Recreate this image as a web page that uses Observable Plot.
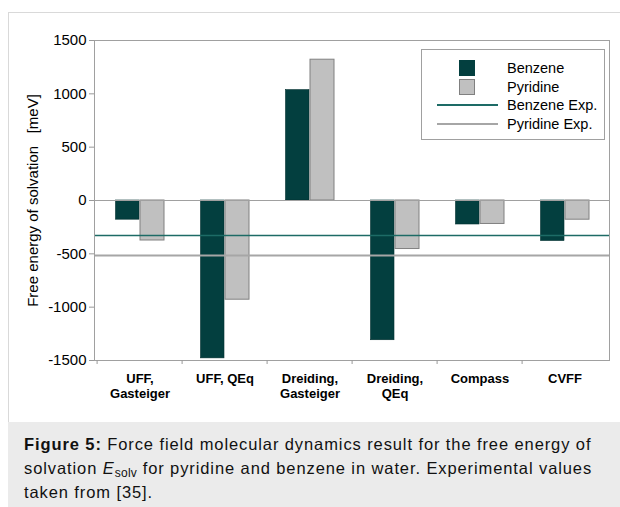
<!DOCTYPE html>
<html>
<head>
<meta charset="utf-8">
<script src="https://cdn.jsdelivr.net/npm/d3@7"></script>
<script src="https://cdn.jsdelivr.net/npm/@observablehq/plot@0.6"></script>
<style>
  html, body { margin: 0; padding: 0; background: #fff; }
  body { width: 620px; height: 507px; position: relative; overflow: hidden;
         font-family: "Liberation Sans", Arial, Helvetica, sans-serif; }
  #panel { position: absolute; left: 8px; top: 12px; width: 640px; height: 410px;
           border-left: 1px solid #d9d9d9; border-top: 1px solid #d9d9d9; box-sizing: border-box; }
  #chart { position: absolute; left: 0; top: 0; }
  #legend { position: absolute; left: 421px; top: 49px; width: 184px; height: 91px;
            border: 1px solid #a0a0a0; box-sizing: border-box; background: #fff; }
  .row { position: absolute; left: 0; width: 100%; height: 18px; }
  .row .sym { position: absolute; }
  .row .lab { position: absolute; left: 85px; top: 0; line-height: 18px; font-size: 14.5px; color: #000; white-space: nowrap; }
  #caption { position: absolute; left: 8px; top: 422px; width: 612px; height: 85px; background: #ebebeb;
             box-sizing: border-box; padding: 10px 0 0 16px; font-size: 16.5px; line-height: 24px;
             letter-spacing: 0.9px; color: #111; white-space: nowrap; }
  #caption sub { font-size: 12px; vertical-align: -3px; line-height: 0; letter-spacing: 0.3px; }
</style>
</head>
<body>
<div id="panel"></div>
<div id="chart"></div>
<div id="legend"></div>
<div id="caption"><b>Figure 5:</b> Force field molecular dynamics result for the free energy of<br>solvation <i>E</i><sub>solv</sub> for pyridine and benzene in water. Experimental values<br>taken from [35].</div>
<script>
// ---- data ----
const categories = ["UFF,\nGasteiger", "UFF, QEq", "Dreiding,\nGasteiger", "Dreiding,\nQEq", "Compass", "CVFF"];
const benzene  = [-180, -1480, 1035, -1310, -225, -380];
const pyridine = [-375,  -930, 1320,  -455, -220, -180];
const benzeneExp = -328;
const pyridineExp = -516;
const yTicks = [-1500, -1000, -500, 0, 500, 1000, 1500];
const yTitle = ["Free energy of solvation\u00a0\u00a0\u00a0[meV]"];
const seriesNames = ["Benzene", "Pyridine", "Benzene Exp.", "Pyridine Exp."];

const colors = {
  benzene: "#033f3f",
  pyridine: "#c0c0c0",
  benzeneExp: "#1d6b66",
  pyridineExp: "#a6a6a6"
};

const rows = categories.map((c, i) => ({category: c, benzene: benzene[i], pyridine: pyridine[i]}));

const chart = Plot.plot({
  width: 620,
  height: 420,
  marginLeft: 94,
  marginRight: 11,
  marginTop: 40,
  marginBottom: 60,
  style: {fontFamily: "'Liberation Sans', Arial, sans-serif", background: "transparent", overflow: "visible", color: "#000"},
  x: {type: "band", domain: categories, padding: 0, label: null},
  y: {domain: [-1500, 1500], label: null},
  marks: [
    Plot.barY(rows, {x: "category", y: "benzene", fill: colors.benzene, stroke: "#023030", strokeWidth: 0.6, insetLeft: 18.5, insetRight: 43}),
    Plot.barY(rows, {x: "category", y: "pyridine", fill: colors.pyridine, stroke: "#808080", strokeWidth: 1, insetLeft: 43, insetRight: 18}),
    Plot.ruleY([0], {stroke: "#a0a0a0", strokeWidth: 1}),
    Plot.ruleY([benzeneExp], {stroke: colors.benzeneExp, strokeWidth: 1.7}),
    Plot.ruleY([pyridineExp], {stroke: colors.pyridineExp, strokeWidth: 2}),
    Plot.frame({stroke: "#a0a0a0"}),
    Plot.axisY({ticks: yTicks, tickSize: 5, tickPadding: 3, fontSize: 15, stroke: "#999",
                tickFormat: d => String(d), label: null}),
    Plot.text(yTitle, {text: d => d, frameAnchor: "left", textAnchor: "middle", rotate: -90, dx: -61, fontSize: 15, fill: "#000"}),
    Plot.axisX({tickSize: 0, tickPadding: 12, fontSize: 13, fontWeight: "bold", lineHeight: 1.15, label: null}),
    Plot.axisX({tickSize: 4, text: null, dx: -42.9, stroke: "#999", label: null})
  ]
});
document.getElementById("chart").appendChild(chart);

// ---- legend (HTML, inside the plot frame like the reference) ----
const legend = document.getElementById("legend");
const legendItems = [
  {name: seriesNames[0], kind: "box", fill: colors.benzene, stroke: colors.benzene},
  {name: seriesNames[1], kind: "box", fill: colors.pyridine, stroke: "#808080"},
  {name: seriesNames[2], kind: "line", stroke: colors.benzeneExp},
  {name: seriesNames[3], kind: "line", stroke: colors.pyridineExp}
];
legendItems.forEach((it, i) => {
  const row = document.createElement("div");
  row.className = "row";
  row.style.top = (9 + i * 18.6) + "px";
  const sym = document.createElement("div");
  sym.className = "sym";
  if (it.kind === "box") {
    sym.style.left = "37px"; sym.style.top = "1px";
    sym.style.width = "16px"; sym.style.height = "16px";
    sym.style.boxSizing = "border-box";
    sym.style.background = it.fill;
    sym.style.border = "1px solid " + it.stroke;
  } else {
    sym.style.left = "15px"; sym.style.top = "8px";
    sym.style.width = "61px"; sym.style.height = "2px";
    sym.style.background = it.stroke;
  }
  const lab = document.createElement("div");
  lab.className = "lab";
  lab.textContent = it.name;
  row.appendChild(sym);
  row.appendChild(lab);
  legend.appendChild(row);
});
</script>
</body>
</html>
